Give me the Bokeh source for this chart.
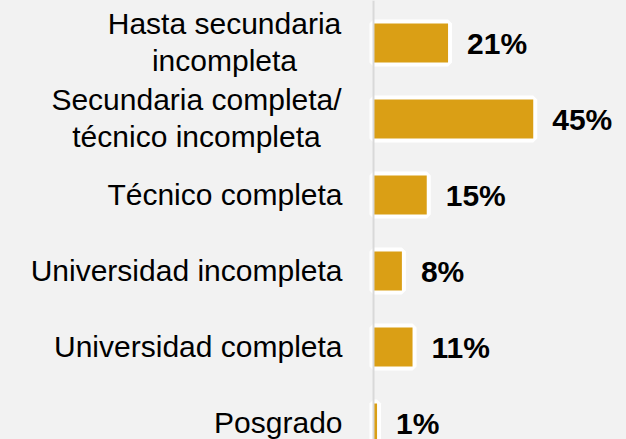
from bokeh.plotting import figure
from bokeh.models import ColumnDataSource, Range1d, Span
from bokeh.core.properties import value
from bokeh.embed import file_html
from bokeh.resources import INLINE

# ---- data ----
categories = [
    "Hasta secundaria\nincompleta",
    "Secundaria completa/\ntécnico incompleta",
    "Técnico completa",
    "Universidad incompleta",
    "Universidad completa",
    "Posgrado",
]
shares = [21, 45, 15, 8, 11, 1]
value_labels = ["21%", "45%", "15%", "8%", "11%", "1%"]

# ---- style ----
BG = "#F2F2F2"
BAR = "#DA9F15"
FONT = value("Liberation Sans")
LABEL_SIZE = "30px"
# horizontal centre (px, relative to the zero line) for two-line labels
two_line_center = {0: -149, 1: -177}

ypos = list(range(len(categories)))

p = figure(
    width=626, height=439,
    x_range=Range1d(-105.07, 71.27),
    y_range=Range1d(5.217, -0.559),
    x_axis_location=None, y_axis_location=None,
    toolbar_location=None, output_backend="svg",
    min_border=0,
)
p.background_fill_color = BG
p.border_fill_color = BG
p.outline_line_color = None
p.xgrid.visible = False
p.ygrid.visible = False

src = ColumnDataSource(dict(y=ypos, v=shares, lab=value_labels))

# white frame behind bars
p.hbar(y="y", left=0, right="v", height=0.513, source=src,
       fill_color="white", line_color="white", line_width=8)
p.hbar(y="y", left=0, right="v", height=0.513, source=src,
       fill_color=BAR, line_color=None)

p.add_layout(Span(location=0, dimension="height", line_color="#D9D9D9", line_width=2))

# value labels
p.text(x="v", y="y", text="lab", source=src, x_offset=19, y_offset=0.5,
       text_font=FONT, text_font_size="30px", text_font_style="bold",
       text_color="black", text_align="left", text_baseline="alphabetic")

# category labels
single = dict(x=[], y=[], t=[])
multi = {}
for i, c in enumerate(categories):
    lines = c.split("\n")
    if len(lines) == 1:
        single["x"].append(0)
        single["y"].append(ypos[i])
        single["t"].append(c)
    else:
        multi[i] = lines

p.text(x="x", y="y", text="t", source=ColumnDataSource(single), x_offset=-31, y_offset=-0.5,
       text_font=FONT, text_font_size=LABEL_SIZE, text_color="black",
       text_align="right", text_baseline="alphabetic")

for i, lines in multi.items():
    for k, ln in enumerate(lines):
        p.text(x=[0], y=[ypos[i]], text=[ln], x_offset=two_line_center[i],
               y_offset=-19.5 + 37.5 * k,
               text_font=FONT, text_font_size=LABEL_SIZE, text_color="black",
               text_align="center", text_baseline="alphabetic")

tmpl = ("{% block postamble %}<style>html, body { background: #F2F2F2; margin: 0; "
        "padding: 0; overflow: hidden; }</style>{% endblock %}")
open("out.html", "w").write(file_html(p, INLINE, template=tmpl))
